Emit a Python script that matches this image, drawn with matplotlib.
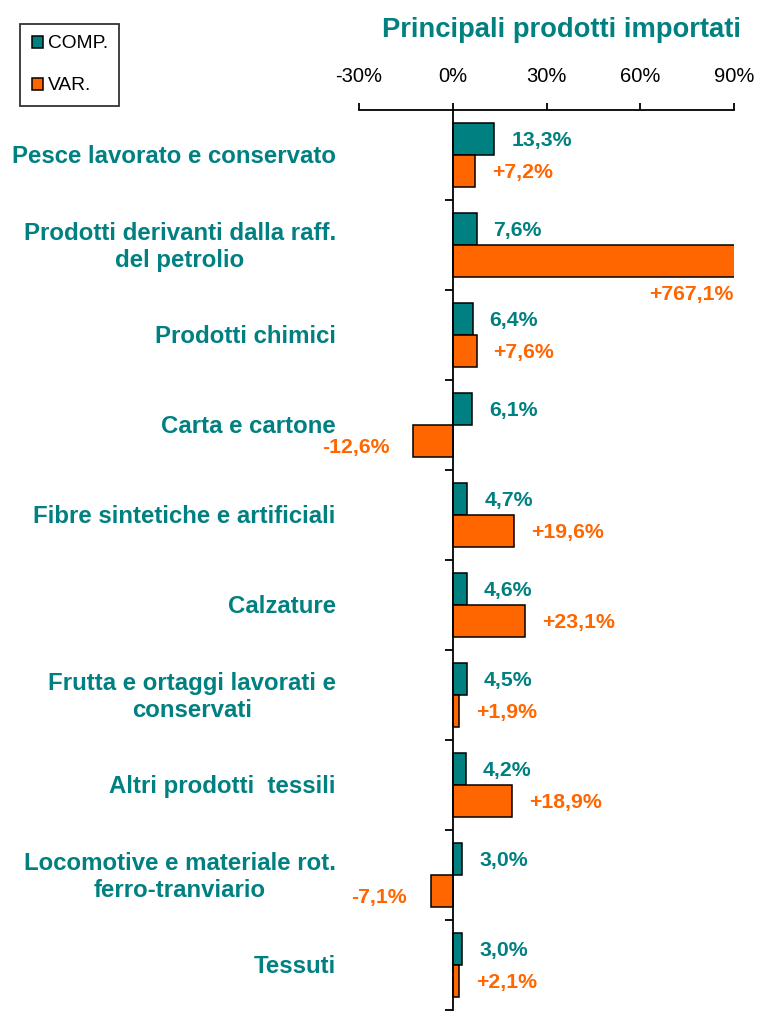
import numpy as np
import matplotlib
matplotlib.use("Agg")
import matplotlib.pyplot as plt
from matplotlib.patches import Patch

plt.rcParams['font.family'] = ['Liberation Sans', 'DejaVu Sans']

categories = [
    "Pesce lavorato e conservato",
    "Prodotti derivanti dalla raff.\ndel petrolio",
    "Prodotti chimici",
    "Carta e cartone",
    "Fibre sintetiche e artificiali",
    "Calzature",
    "Frutta e ortaggi lavorati e\nconservati",
    "Altri prodotti  tessili",
    "Locomotive e materiale rot.\nferro-tranviario",
    "Tessuti",
]
comp = [13.3, 7.6, 6.4, 6.1, 4.7, 4.6, 4.5, 4.2, 3.0, 3.0]
var = [7.2, 767.1, 7.6, -12.6, 19.6, 23.1, 1.9, 18.9, -7.1, 2.1]
xticks = [-30, 0, 30, 60, 90]
xticklabels = ["-30%", "0%", "30%", "60%", "90%"]
series_names = ["COMP.", "VAR."]
title = "Principali prodotti importati"

TEAL = "#008080"
ORANGE = "#FF6600"

W, H = 757, 1014
fig = plt.figure(figsize=(W / 100, H / 100), dpi=100)
ax = fig.add_axes([359 / W, 1 - 1010 / H, (734 - 359) / W, (1010 - 110) / H])

n = len(categories)
y = np.arange(n)
bh = 0.36
ax.barh(y - bh / 2, comp, height=bh, color=TEAL, edgecolor="black", linewidth=1.1, zorder=2)
ax.barh(y + bh / 2, var, height=bh, color=ORANGE, edgecolor="black", linewidth=1.1, zorder=2)

ax.set_xlim(-30, 90)
ax.set_ylim(n - 0.5, -0.5)

ax.xaxis.tick_top()
ax.set_xticks(xticks)
ax.set_xticklabels(xticklabels, fontsize=14.5)
ax.tick_params(axis='x', direction='out', length=5, width=1.3, pad=12)

ax.set_yticks(np.arange(0.5, n, 1))
ax.set_yticklabels([])
ax.tick_params(axis='y', direction='out', length=6, width=1.3)

ax.spines['left'].set_position(('data', 0))
ax.spines['right'].set_visible(False)
ax.spines['bottom'].set_visible(False)
for s in ('left', 'top'):
    ax.spines[s].set_linewidth(1.3)
ax.set_facecolor('none')

# category labels
for i, lab in enumerate(categories):
    ax.text(-0.062, i + 0.02, lab, transform=ax.get_yaxis_transform(), ha='right', va='center',
            multialignment='center', fontsize=17.3, fontweight='bold', color=TEAL, clip_on=False)

# value labels
pt = 72 / 100.0
def fmt(v, sign):
    s = f"{abs(v):.1f}".replace('.', ',') + "%"
    if sign:
        s = ("+" if v >= 0 else "-") + s
    return s

xmin, xmax = ax.get_xlim()
for i, v in enumerate(comp):
    ax.annotate(fmt(v, False), xy=(v, i - bh / 2), xytext=(17 * pt, -2 * pt), textcoords='offset points',
                ha='left', va='center', fontsize=15.3, fontweight='bold', color=TEAL)
for i, v in enumerate(var):
    if v > xmax:
        ax.annotate(fmt(v, True), xy=(xmax, i + bh), xytext=(0, -8 * pt), textcoords='offset points',
                    ha='right', va='top', fontsize=15.3, fontweight='bold', color=ORANGE, annotation_clip=False)
    elif v >= 0:
        ax.annotate(fmt(v, True), xy=(v, i + bh / 2), xytext=(17 * pt, -1 * pt), textcoords='offset points',
                    ha='left', va='center', fontsize=15.3, fontweight='bold', color=ORANGE)
    else:
        ax.annotate(fmt(v, True), xy=(v, i + bh / 2), xytext=(-24 * pt, -6 * pt), textcoords='offset points',
                    ha='right', va='center', fontsize=15.3, fontweight='bold', color=ORANGE, annotation_clip=False)

fig.text(561 / W, 1 - 30 / H, title, ha='center', va='center', fontsize=19.7, fontweight='bold', color=TEAL)

handles = [Patch(facecolor=TEAL, edgecolor='black', linewidth=1.1),
           Patch(facecolor=ORANGE, edgecolor='black', linewidth=1.1)]
leg = fig.legend(handles, series_names, loc='upper left', bbox_to_anchor=(20 / W, 1 - 24 / H),
                 frameon=True, fancybox=False, fontsize=13.8, handlelength=0.6, handleheight=0.6,
                 handletextpad=0.25, labelspacing=1.3, borderpad=0.6, borderaxespad=0)
leg.get_frame().set_edgecolor('black')
leg.get_frame().set_linewidth(1.3)

fig.savefig("out.png", dpi=100)
